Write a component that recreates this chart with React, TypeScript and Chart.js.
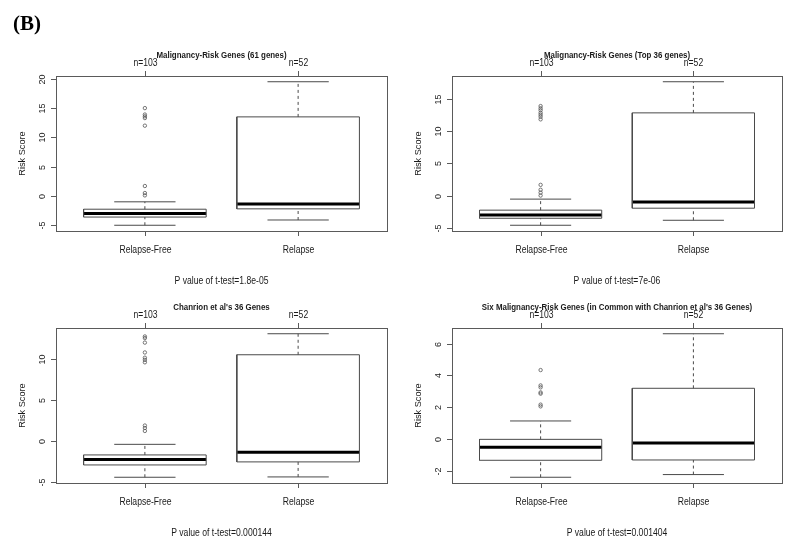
import React, { useEffect, useRef } from "react";
import { Chart, registerables } from "chart.js";

Chart.register(...registerables);

// ---------------- data ----------------
const categories = ["Relapse-Free", "Relapse"];
const groupCounts = ["n=103", "n=52"];
const categoryPositions = [1, 2];

const panelTitles = [
  "Malignancy-Risk Genes (61 genes)",
  "Malignancy-Risk Genes (Top 36 genes)",
  "Chanrion et al's 36 Genes",
  "Six Malignancy-Risk Genes (in Common with Chanrion et al's 36 Genes)",
];
const pValueLabels = [
  "P value of t-test=1.8e-05",
  "P value of t-test=7e-06",
  "P value of t-test=0.000144",
  "P value of t-test=0.001404",
];
const yTickValues = [
  [-5, 0, 5, 10, 15, 20],
  [-5, 0, 5, 10, 15],
  [-5, 0, 5, 10],
  [-2, 0, 2, 4, 6],
];
const yAxisTitle = "Risk Score";
const figureLabel = "(B)";

// five-number summaries: [lower whisker, Q1, median, Q3, upper whisker]
const stats61RelapseFree = [-5.0, -3.6, -3.0, -2.26, -1.0];
const stats61Relapse = [-4.1, -2.2, -1.35, 13.5, 19.5];
const statsTop36RelapseFree = [-4.53, -3.45, -2.94, -2.2, -0.5];
const statsTop36Relapse = [-3.76, -1.9, -0.93, 12.8, 17.6];
const statsChanrionRelapseFree = [-4.4, -2.9, -2.25, -1.68, -0.39];
const statsChanrionRelapse = [-4.36, -2.53, -1.36, 10.52, 13.08];
const statsSixRelapseFree = [-2.42, -1.35, -0.53, -0.03, 1.13];
const statsSixRelapse = [-2.25, -1.33, -0.26, 3.19, 6.63];

// outliers
const outliers61RelapseFree = [15.0, 13.9, 13.6, 13.3, 12.0, 1.7, 0.5, 0.1];
const outliers61Relapse: number[] = [];
const outliersTop36RelapseFree = [13.85, 13.5, 13.2, 12.8, 12.5, 12.2, 11.8, 1.7, 0.94, 0.5, 0.05];
const outliersTop36Relapse: number[] = [];
const outliersChanrionRelapseFree = [12.75, 12.55, 12.0, 10.8, 10.16, 9.9, 9.6, 1.9, 1.6, 1.24];
const outliersChanrionRelapse: number[] = [];
const outliersSixRelapseFree = [4.34, 3.37, 3.25, 2.93, 2.85, 2.16, 2.05];
const outliersSixRelapse: number[] = [];

const panelStats = [
  [stats61RelapseFree, stats61Relapse],
  [statsTop36RelapseFree, statsTop36Relapse],
  [statsChanrionRelapseFree, statsChanrionRelapse],
  [statsSixRelapseFree, statsSixRelapse],
];
const panelOutliers = [
  [outliers61RelapseFree, outliers61Relapse],
  [outliersTop36RelapseFree, outliersTop36Relapse],
  [outliersChanrionRelapseFree, outliersChanrionRelapse],
  [outliersSixRelapseFree, outliersSixRelapse],
];

// ---------------- layout ----------------
const canvasRects = [
  { left: 0, top: 0, width: 400, height: 295 },
  { left: 400, top: 0, width: 400, height: 295 },
  { left: 0, top: 290, width: 400, height: 263 },
  { left: 400, top: 290, width: 400, height: 263 },
];
const plotRects = [
  { L: 56, T: 76, R: 387, B: 231 },
  { L: 452, T: 76, R: 782, B: 231 },
  { L: 56, T: 328, R: 387, B: 483 },
  { L: 452, T: 328, R: 782, B: 483 },
];

const FONT = "'Liberation Sans', Arial, Helvetica, sans-serif";
const TEXT_COLOR = "#1a1a1a";
const FRAME_COLOR = "#5a5a5a";
const BOX_COLOR = "#4a4a4a";
const TEXT_XSCALE = 0.86;

function buildDatasets(idx: number) {
  const ds: any[] = [];
  const lineBase = {
    showLine: true,
    pointRadius: 0,
    borderWidth: 1,
    borderColor: BOX_COLOR,
    backgroundColor: "rgba(0,0,0,0)",
    fill: false,
    tension: 0,
    borderCapStyle: "butt",
  };
  panelStats[idx].forEach((s, g) => {
    const x = categoryPositions[g];
    ds.push({ ...lineBase, borderDash: [3, 3], data: [{ x, y: s[0] }, { x, y: s[1] }] });
    ds.push({ ...lineBase, borderDash: [3, 3], data: [{ x, y: s[3] }, { x, y: s[4] }] });
    ds.push({ ...lineBase, data: [{ x: x - 0.2, y: s[0] }, { x: x + 0.2, y: s[0] }] });
    ds.push({ ...lineBase, data: [{ x: x - 0.2, y: s[4] }, { x: x + 0.2, y: s[4] }] });
    ds.push({
      ...lineBase,
      data: [
        { x: x - 0.4, y: s[1] },
        { x: x + 0.4, y: s[1] },
        { x: x + 0.4, y: s[3] },
        { x: x - 0.4, y: s[3] },
        { x: x - 0.4, y: s[1] },
      ],
    });
    ds.push({
      ...lineBase,
      borderWidth: 3,
      borderColor: "#000",
      data: [{ x: x - 0.4, y: s[2] }, { x: x + 0.4, y: s[2] }],
    });
    const outs = panelOutliers[idx][g];
    if (outs.length) {
      ds.push({
        showLine: false,
        pointStyle: "circle",
        pointRadius: 1.7,
        pointBorderWidth: 0.8,
        pointBorderColor: "#555",
        pointBackgroundColor: "rgba(0,0,0,0)",
        data: outs.map((y) => ({ x, y })),
      });
    }
  });
  return ds;
}

function yRange(idx: number) {
  const all: number[] = [];
  panelStats[idx].forEach((s) => all.push(...s));
  panelOutliers[idx].forEach((o) => all.push(...o));
  const lo = Math.min(...all);
  const hi = Math.max(...all);
  const pad = (hi - lo) * 0.04;
  return { min: lo - pad, max: hi + pad };
}

function fillScaled(ctx: CanvasRenderingContext2D, text: string, x: number, y: number, sx: number) {
  ctx.save();
  ctx.translate(x, y);
  ctx.scale(sx, 1);
  ctx.fillText(text, 0, 0);
  ctx.restore();
}

function Panel({ idx }: { idx: number }) {
  const ref = useRef<HTMLCanvasElement | null>(null);
  const cr = canvasRects[idx];
  const pr = plotRects[idx];

  useEffect(() => {
    if (!ref.current) return;
    const { min, max } = yRange(idx);
    const rPlugin = {
      id: "rStyleAxes",
      afterDraw(chart: any) {
        const ctx = chart.ctx as CanvasRenderingContext2D;
        const ca = chart.chartArea;
        const xs = chart.scales.x;
        const ys = chart.scales.y;
        ctx.save();
        // frame
        ctx.strokeStyle = FRAME_COLOR;
        ctx.lineWidth = 1;
        ctx.setLineDash([]);
        ctx.strokeRect(Math.round(ca.left) + 0.5, Math.round(ca.top) + 0.5, Math.round(ca.right - ca.left), Math.round(ca.bottom - ca.top));

        ctx.fillStyle = TEXT_COLOR;
        // y ticks
        ctx.font = `9px ${FONT}`;
        yTickValues[idx].forEach((v) => {
          const py = Math.round(ys.getPixelForValue(v)) + 0.5;
          ctx.beginPath();
          ctx.moveTo(ca.left - 5, py);
          ctx.lineTo(ca.left, py);
          ctx.stroke();
          ctx.save();
          ctx.translate(ca.left - 11, py);
          ctx.rotate(-Math.PI / 2);
          ctx.textAlign = "center";
          ctx.textBaseline = "alphabetic";
          ctx.fillText(String(v), 0, 0);
          ctx.restore();
        });
        // y axis title
        ctx.save();
        ctx.font = `9.2px ${FONT}`;
        ctx.translate(ca.left - 31.5, (ca.top + ca.bottom) / 2);
        ctx.rotate(-Math.PI / 2);
        ctx.textAlign = "center";
        ctx.fillText(yAxisTitle, 0, 0);
        ctx.restore();

        // top and bottom ticks & labels
        ctx.textAlign = "center";
        ctx.textBaseline = "alphabetic";
        categoryPositions.forEach((c, g) => {
          const px = Math.round(xs.getPixelForValue(c)) + 0.5;
          ctx.beginPath();
          ctx.moveTo(px, ca.top - 5);
          ctx.lineTo(px, ca.top);
          ctx.moveTo(px, ca.bottom);
          ctx.lineTo(px, ca.bottom + 5);
          ctx.stroke();
          ctx.font = `10px ${FONT}`;
          fillScaled(ctx, groupCounts[g], px, ca.top - 10, TEXT_XSCALE);
          fillScaled(ctx, categories[g], px, ca.bottom + 21.5, TEXT_XSCALE);
        });
        const cx = (ca.left + ca.right) / 2;
        // p-value
        ctx.font = `10px ${FONT}`;
        fillScaled(ctx, pValueLabels[idx], cx, ca.bottom + 52.5, TEXT_XSCALE);
        // title
        ctx.font = `bold 8.6px ${FONT}`;
        fillScaled(ctx, panelTitles[idx], cx, ca.top - 18, 0.92);

        if (idx === 0) {
          ctx.textAlign = "left";
          ctx.font = `bold 21px 'Liberation Serif', 'Times New Roman', serif`;
          ctx.fillStyle = "#000";
          ctx.fillText(figureLabel, 13, 30);
        }
        ctx.restore();
      },
    };

    const chart = new Chart(ref.current, {
      type: "scatter",
      data: { datasets: buildDatasets(idx) },
      options: {
        animation: false,
        responsive: false,
        events: [],
        layout: {
          padding: {
            left: pr.L - cr.left,
            top: pr.T - cr.top,
            right: cr.left + cr.width - pr.R,
            bottom: cr.top + cr.height - pr.B,
          },
        },
        plugins: { legend: { display: false }, tooltip: { enabled: false }, title: { display: false } },
        scales: {
          x: { type: "linear", min: 0.42, max: 2.58, display: false },
          y: { type: "linear", min, max, display: false },
        },
      },
      plugins: [rPlugin],
    } as any);
    return () => chart.destroy();
  }, [idx]);

  return (
    <canvas
      ref={ref}
      width={cr.width}
      height={cr.height}
      style={{ position: "absolute", left: cr.left, top: cr.top, width: cr.width, height: cr.height }}
    />
  );
}

export default function App() {
  useEffect(() => {
    document.body.style.margin = "0";
    document.body.style.background = "#fff";
  }, []);
  return (
    <div style={{ position: "relative", width: 800, height: 553, background: "#fff", overflow: "hidden" }}>
      {[0, 1, 2, 3].map((i) => (
        <Panel key={i} idx={i} />
      ))}
    </div>
  );
}
